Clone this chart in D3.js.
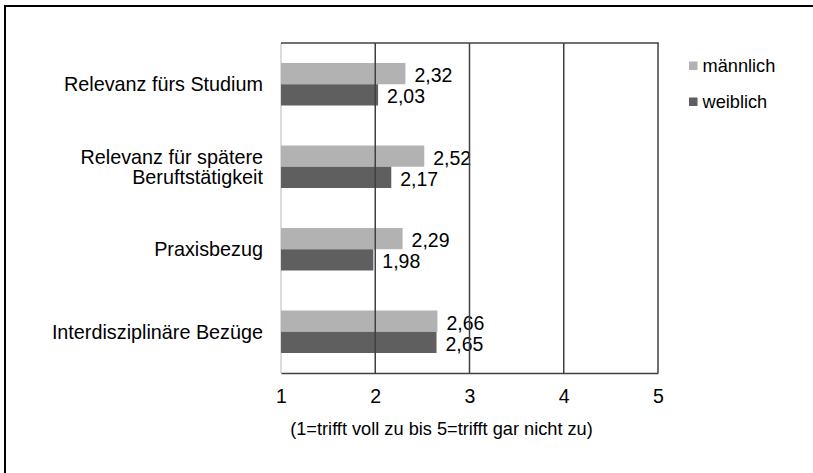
<!DOCTYPE html>
<html>
<head>
<meta charset="utf-8">
<script src="https://cdn.jsdelivr.net/npm/d3@7"></script>
<style>
  html, body { margin: 0; padding: 0; background: #fff; }
  svg { display: block; font-family: "Liberation Sans", Arial, sans-serif; }
</style>
</head>
<body>
<svg id="chart" width="813" height="473"></svg>
<script>
// Survey ratings (1 = trifft voll zu ... 5 = trifft gar nicht zu)
const categories = [
  ["Relevanz fürs Studium"],
  ["Relevanz für spätere", "Beruftstätigkeit"],
  ["Praxisbezug"],
  ["Interdisziplinäre Bezüge"]
];
const seriesNames = ["männlich", "weiblich"];
const maleValues = [2.32, 2.52, 2.29, 2.66];
const femaleValues = [2.03, 2.17, 1.98, 2.65];
const tickValues = [1, 2, 3, 4, 5];
const axisTitle = "(1=trifft voll zu bis 5=trifft gar nicht zu)";

const colors = { "männlich": "#b2b2b2", "weiblich": "#5f5f5f" };
const fmt = v => d3.format(".2f")(v).replace(".", ",");

const svg = d3.select("#chart");
svg.append("rect").attr("width", 813).attr("height", 473).attr("fill", "#fff");

// outer frame (top and left edges)
svg.append("line").attr("x1", 4).attr("x2", 813).attr("y1", 6).attr("y2", 6)
  .attr("stroke", "#000").attr("stroke-width", 2);
svg.append("line").attr("x1", 5).attr("x2", 5).attr("y1", 5).attr("y2", 473)
  .attr("stroke", "#000").attr("stroke-width", 2);

const plot = { left: 281, right: 658, top: 43, bottom: 373 };

const x = d3.scaleLinear().domain([1, 5]).range([plot.left, plot.right]);
const keys = categories.map((c, i) => i);
const y = d3.scaleBand().domain(keys).range([plot.top, plot.bottom])
  .paddingInner(0.485).paddingOuter(0.2425);
const ySub = d3.scaleBand().domain(seriesNames).range([0, y.bandwidth()]);

const rows = keys.map(i => ({
  i,
  values: [
    { name: "männlich", value: maleValues[i] },
    { name: "weiblich", value: femaleValues[i] }
  ]
}));

// left category axis line
svg.append("line").attr("x1", plot.left).attr("x2", plot.left)
  .attr("y1", plot.top).attr("y2", plot.bottom)
  .attr("stroke", "#d0d0d0").attr("stroke-width", 1.5);

// bars
const groups = svg.append("g").selectAll("g").data(rows).join("g")
  .attr("transform", d => `translate(0,${y(d.i)})`);
groups.selectAll("rect").data(d => d.values).join("rect")
  .attr("x", x(1))
  .attr("y", d => ySub(d.name))
  .attr("width", d => x(d.value) - x(1))
  .attr("height", ySub.bandwidth())
  .attr("fill", d => colors[d.name]);

// vertical gridlines and top edge
const grid = svg.append("g");
grid.selectAll("line").data(tickValues.slice(1)).join("line")
  .attr("x1", d => x(d)).attr("x2", d => x(d))
  .attr("y1", plot.top).attr("y2", plot.bottom)
  .attr("stroke", "#404040").attr("stroke-width", 1.5);
grid.append("line").attr("x1", plot.left).attr("x2", plot.right + 0.75)
  .attr("y1", plot.top).attr("y2", plot.top)
  .attr("stroke", "#404040").attr("stroke-width", 1.5);

// value labels
groups.selectAll("text").data(d => d.values).join("text")
  .attr("x", d => x(d.value) + 9)
  .attr("y", d => ySub(d.name) + ySub.bandwidth() / 2 + 8.5)
  .attr("font-size", 19.5)
  .attr("fill", "#000")
  .text(d => fmt(d.value));

// bottom axis
const xAxis = d3.axisBottom(x).tickValues(tickValues).tickSize(0).tickPadding(16)
  .tickFormat(d3.format("d"));
const gx = svg.append("g").attr("transform", `translate(0,${plot.bottom})`).call(xAxis);
gx.select(".domain").attr("stroke", "#404040").attr("stroke-width", 1.5);
gx.selectAll("text").attr("font-size", 19.5).attr("fill", "#000")
  .attr("font-family", "Liberation Sans, Arial, sans-serif");

// axis title
svg.append("text").attr("x", 441.5).attr("y", 435)
  .attr("text-anchor", "middle").attr("font-size", 18.2).attr("fill", "#000")
  .text(axisTitle);

// category labels
const catLabels = svg.append("g").selectAll("text").data(rows).join("text")
  .attr("text-anchor", "end")
  .attr("font-size", 19.8)
  .attr("fill", "#000");
catLabels.each(function(d) {
  const lines = categories[d.i];
  const cy = y(d.i) + y.bandwidth() / 2;
  const lh = 20;
  const t = d3.select(this);
  lines.forEach((ln, k) => {
    t.append("tspan")
      .attr("x", 263)
      .attr("y", cy + 7.2 + (k - (lines.length - 1) / 2) * lh)
      .text(ln);
  });
});

// legend
const legend = svg.append("g").selectAll("g").data(seriesNames).join("g")
  .attr("transform", (d, i) => `translate(689,${61.5 + i * 36})`);
legend.append("rect").attr("width", 8.5).attr("height", 8.5)
  .attr("fill", d => colors[d]);
legend.append("text").attr("x", 13.5).attr("y", 10.2)
  .attr("font-size", 18.2).attr("fill", "#000").text(d => d);
</script>
</body>
</html>
